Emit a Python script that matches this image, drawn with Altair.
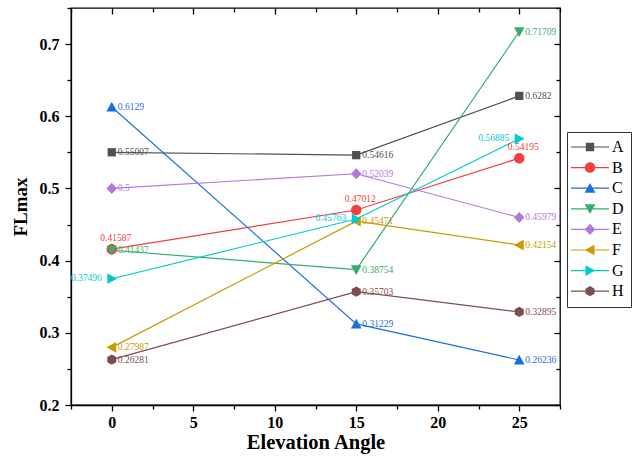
import altair as alt
import pandas as pd

# Elevation angles (x) and FLmax values per series
angles = [0, 15, 25]
series = ["A", "B", "C", "D", "E", "F", "G", "H"]
A = [0.55007, 0.54616, 0.6282]
B = [0.41587, 0.47012, 0.54195]
C = [0.6129, 0.31229, 0.26236]
D = [0.41437, 0.38754, 0.71709]
E = [0.5, 0.52039, 0.45979]
F = [0.27987, 0.45471, 0.42154]
G = [0.37496, 0.45763, 0.56885]
H = [0.26281, 0.35703, 0.32895]
values = [A, B, C, D, E, F, G, H]

x_ticks = [0, 5, 10, 15, 20, 25]
y_ticks = [0.2, 0.3, 0.4, 0.5, 0.6, 0.7]

colors = ["#515151", "#F14040", "#1A6FDF", "#37AD6B",
          "#B177DE", "#CC9900", "#00CBCC", "#7D4E4E"]
kinds = ["square", "circle", "tri-up", "tri-down",
         "diamond", "tri-left", "tri-right", "hexagon"]
# where each series' value labels sit relative to its markers
placement = {"A": "right", "B": "above", "C": "right", "D": "right",
             "E": "right", "F": "right", "G": "left", "H": "right"}

rows = []
for name, vals in zip(series, values):
    for a, v in zip(angles, vals):
        rows.append({"angle": a, "FLmax": v, "series": name,
                     "label": f"{v:g}", "place": placement[name]})
df = pd.DataFrame(rows)


def f(v):
    return f"{v:.3f}".rstrip("0").rstrip(".")


def marker(kind, cx=0.0):
    """Clockwise SVG path of a marker in Vega's [-1, 1] symbol space."""
    if kind == "square":
        r = 0.83
        return f"M{f(cx-r)},{-r}H{f(cx+r)}V{r}H{f(cx-r)}Z"
    if kind == "circle":
        r = 1.05
        return (f"M{f(cx-r)},0A{r},{r} 0 1,1 {f(cx+r)},0"
                f"A{r},{r} 0 1,1 {f(cx-r)},0Z")
    if kind == "tri-up":
        return f"M{f(cx)},-1.05L{f(cx+1.07)},0.9L{f(cx-1.07)},0.9Z"
    if kind == "tri-down":
        return f"M{f(cx-1.07)},-0.9L{f(cx+1.07)},-0.9L{f(cx)},1.05Z"
    if kind == "tri-left":
        return f"M{f(cx-1.05)},0L{f(cx+0.9)},-1.07L{f(cx+0.9)},1.07Z"
    if kind == "tri-right":
        return f"M{f(cx+1.05)},0L{f(cx-0.9)},1.07L{f(cx-0.9)},-1.07Z"
    if kind == "diamond":
        return (f"M{f(cx)},-1.12L{f(cx+1.05)},0L{f(cx)},1.12"
                f"L{f(cx-1.05)},0Z")
    # hexagon, pointy top
    return (f"M{f(cx)},-1.02L{f(cx+0.9)},-0.51L{f(cx+0.9)},0.51"
            f"L{f(cx)},1.02L{f(cx-0.9)},0.51L{f(cx-0.9)},-0.51Z")


plot_shapes = [marker(k) for k in kinds]
# legend symbol: a short line with the marker in its middle
legend_shapes = ["M-2.2,-0.12H5.4V0.12H-2.2Z" + marker(k, 1.6) for k in kinds]

serif = "Liberation Serif, Times New Roman, serif"
x_scale = alt.Scale(domain=[-2.5, 27.5], nice=False, zero=False)
y_scale = alt.Scale(domain=[0.2, 0.75], nice=False, zero=False)


def color_enc(legend=None):
    return alt.Color("series:N", scale=alt.Scale(domain=series, range=colors),
                     legend=legend)


base = alt.Chart(df)

main_x = alt.Axis(values=x_ticks, tickSize=6, tickWidth=1.3, tickColor="black",
                  domainColor="black", domainWidth=1.3, labelFont=serif,
                  labelFontWeight="bold", labelFontSize=16, labelColor="black",
                  labelPadding=3, title="Elevation Angle", titleFont=serif,
                  titleFontWeight="bold", titleFontSize=20.5, titleColor="black",
                  titlePadding=2, grid=False)
main_y = alt.Axis(values=y_ticks, format=".1f", tickSize=6, tickWidth=1.3,
                  tickColor="black", domainColor="black", domainWidth=1.3,
                  labelFont=serif, labelFontWeight="bold", labelFontSize=16,
                  labelColor="black", labelPadding=6, title="FLmax",
                  titleFont=serif, titleFontWeight="bold", titleFontSize=19,
                  titleColor="black", titlePadding=9, grid=False)

minor_x_vals = [-2.5, 2.5, 7.5, 12.5, 17.5, 22.5, 27.5]
minor_y_vals = [0.25, 0.35, 0.45, 0.55, 0.65, 0.75]


def tick_axis(vals, size, orient, offset=0):
    return alt.Axis(values=vals, tickSize=size, tickWidth=1.3,
                    tickColor="black", labels=False, domain=False,
                    grid=False, title=None, orient=orient, offset=offset)


lines = base.mark_line(strokeWidth=1.2).encode(
    x=alt.X("angle:Q", scale=x_scale, axis=main_x),
    y=alt.Y("FLmax:Q", scale=y_scale, axis=main_y),
    color=color_enc(),
    detail="series:N",
)

points = base.mark_point(filled=True, opacity=1, size=100).encode(
    x=alt.X("angle:Q", scale=x_scale, axis=tick_axis(minor_x_vals, 4, "bottom")),
    y=alt.Y("FLmax:Q", scale=y_scale, axis=tick_axis(minor_y_vals, 4, "left")),
    color=color_enc(),
    shape=alt.Shape("series:N", scale=alt.Scale(domain=series, range=plot_shapes),
                    legend=None),
)

text_style = dict(font=serif, fontSize=9.5, baseline="middle")

labels_right = base.transform_filter("datum.place == 'right'").mark_text(
    align="left", dx=6, **text_style).encode(
    x=alt.X("angle:Q", scale=x_scale, axis=tick_axis(x_ticks, 6, "top", -6)),
    y=alt.Y("FLmax:Q", scale=y_scale, axis=tick_axis(y_ticks, 6, "right", -6)),
    text="label:N",
    color=color_enc(),
)

labels_above = base.transform_filter("datum.place == 'above'").mark_text(
    align="center", dx=4, dy=-11, **text_style).encode(
    x=alt.X("angle:Q", scale=x_scale, axis=tick_axis(minor_x_vals, 4, "top", -4)),
    y=alt.Y("FLmax:Q", scale=y_scale, axis=tick_axis(minor_y_vals, 4, "right", -4)),
    text="label:N",
    color=color_enc(),
)

labels_left = base.transform_filter("datum.place == 'left'").mark_text(
    align="right", dx=-10, dy=-1, **text_style).encode(
    x=alt.X("angle:Q", scale=x_scale, axis=None),
    y=alt.Y("FLmax:Q", scale=y_scale, axis=None),
    text="label:N",
    color=color_enc(),
)

legend = alt.Legend(
    title=None, orient="none", legendX=496, legendY=124, padding=7,
    symbolSize=100, symbolStrokeWidth=0, labelFont=serif, labelFontSize=16,
    labelColor="black", labelOffset=22, rowPadding=4.6, strokeColor="#333333",
)

legend_layer = base.transform_filter("false").mark_point(
    filled=True, opacity=1).encode(
    color=color_enc(legend),
    shape=alt.Shape("series:N",
                    scale=alt.Scale(domain=series, range=legend_shapes),
                    legend=legend),
)

chart = alt.layer(
    lines, points, labels_right, labels_above, labels_left, legend_layer
).resolve_scale(
    color="independent", shape="independent"
).resolve_axis(
    x="independent", y="independent"
).properties(
    width=489, height=397,
    autosize=alt.AutoSizeParams(type="none"),
    padding={"left": 71, "top": 8, "right": 76, "bottom": 54},
).configure(
    background="white", font=serif
).configure_axis(
    labelFont=serif, titleFont=serif
).configure_legend(
    labelFont=serif
).configure_view(
    stroke="black", strokeWidth=1.3
)

chart.save("out.html", embed_options={"renderer": "svg", "actions": False})
